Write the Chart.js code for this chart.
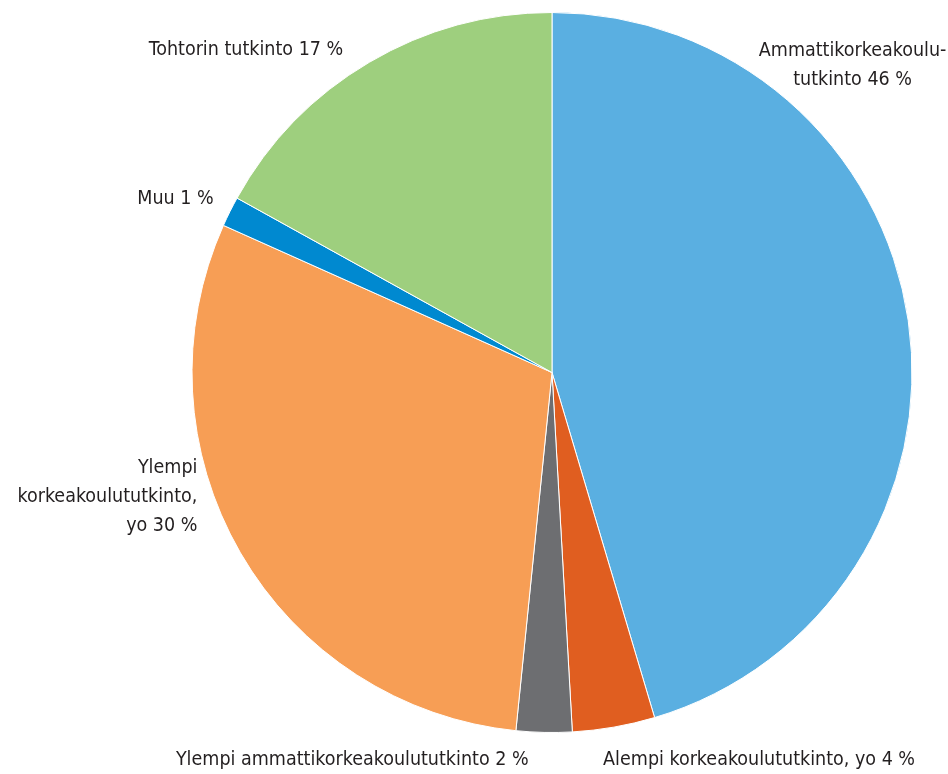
<!DOCTYPE html>
<html>
<head>
<meta charset="utf-8">
<script src="https://cdn.jsdelivr.net/npm/chart.js@4"></script>
<style>
  html, body { margin: 0; padding: 0; background: #fff; }
  #wrap { width: 948px; height: 774px; }
</style>
</head>
<body>
<div id="wrap"><canvas id="pieChart"></canvas></div>
<script>
const categories = [
    'Ammattikorkeakoulututkinto',
    'Alempi korkeakoulututkinto, yo',
    'Ylempi ammattikorkeakoulututkinto',
    'Ylempi korkeakoulututkinto, yo',
    'Muu',
    'Tohtorin tutkinto'
];
const shares = [45.4, 3.7, 2.5, 30.1, 1.35, 16.95];
const shownPercents = [46, 4, 2, 30, 1, 17];
const sliceColors = ['#5AAFE1', '#E05E20', '#6D6E71', '#F79E55', '#0089D0', '#9ECF7E'];

// label text lines (as printed in the picture)
const labelLines = [
    ['Ammattikorkeakoulu-', 'tutkinto ' + shownPercents[0] + ' %'],
    ['Alempi korkeakoulututkinto, yo ' + shownPercents[1] + ' %'],
    ['Ylempi ammattikorkeakoulututkinto ' + shownPercents[2] + ' %'],
    ['Ylempi', 'korkeakoulututkinto,', 'yo ' + shownPercents[3] + ' %'],
    ['Muu ' + shownPercents[4] + ' %'],
    ['Tohtorin tutkinto ' + shownPercents[5] + ' %']
];

// where each label sits, relative to pie centre in radius units, and its alignment
const labelPlace = [
    { dx: 0.835, dy: -0.854, align: 'center' },
    { dx: 0.142, dy: 1.075, align: 'left' },
    { dx: -0.065, dy: 1.075, align: 'right' },
    { dx: -0.985, dy: 0.347, align: 'right' },
    { dx: -0.94, dy: -0.482, align: 'right' },
    { dx: -0.58, dy: -0.895, align: 'right' }
];

const outsideLabels = {
    id: 'outsideLabels',
    afterDraw(chart) {
        const ctx = chart.ctx;
        const arc = chart.getDatasetMeta(0).data[0];
        const cx = arc.x, cy = arc.y, r = arc.outerRadius;
        ctx.save();
        ctx.fillStyle = '#231F20';
        ctx.font = '19.5px "Liberation Sans Narrow", "DejaVu Sans Condensed", sans-serif';
        ctx.textBaseline = 'middle';
        labelLines.forEach((lines, i) => {
            const p = labelPlace[i];
            const x = cx + p.dx * r;
            const y0 = cy + p.dy * r - (lines.length - 1) * 29 / 2;
            ctx.textAlign = p.align;
            lines.forEach((line, j) => ctx.fillText(line, x, y0 + j * 29));
        });
        ctx.restore();
    }
};

new Chart(document.getElementById('pieChart'), {
    type: 'pie',
    data: {
        labels: categories,
        datasets: [{
            data: shares,
            backgroundColor: sliceColors,
            borderColor: '#ffffff',
            borderWidth: 1
        }]
    },
    options: {
        responsive: true,
        maintainAspectRatio: false,
        animation: false,
        layout: { padding: { top: 12, bottom: 41, left: 190, right: 34 } },
        plugins: {
            legend: { display: false },
            tooltip: { enabled: false }
        }
    },
    plugins: [outsideLabels]
});
</script>
</body>
</html>
